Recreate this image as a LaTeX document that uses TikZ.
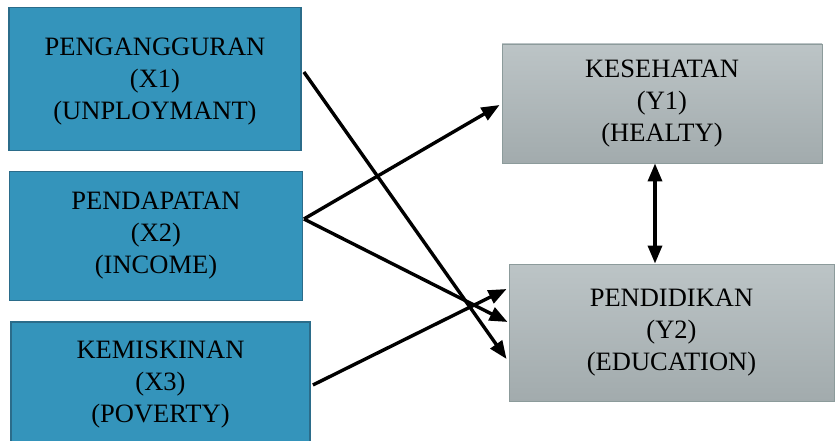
\documentclass[tikz,border=0pt]{standalone}
\usepackage{fontspec}
\setmainfont{Liberation Serif}
\usepackage{tikz}
\usetikzlibrary{arrows.meta}

\definecolor{xblue}{HTML}{3494BB}
\definecolor{xblueline}{HTML}{2B6C8A}
\definecolor{ytop}{HTML}{BCC4C6}
\definecolor{ybot}{HTML}{A2ABAD}
\definecolor{yline}{HTML}{8C9B9B}

\begin{document}
\begin{tikzpicture}[x=1pt, y=1pt, every node/.style={font=\fontsize{26.5}{32}\selectfont}, xbox/.style={draw=xblueline, line width=1.8pt, fill=xblue, align=center, inner sep=0pt}, ybox/.style={draw=yline, line width=0.9pt, top color=ytop, bottom color=ybot, align=center, inner sep=0pt}, link/.style={line width=3.4pt, -{Triangle[length=18pt,width=14pt]}}]
\useasboundingbox (0,0) rectangle (836,440);
\node[xbox, minimum width=292pt, minimum height=143pt, text depth=-4pt] (unemp) at (155,361) {PENGANGGURAN\\(X1)\\(UNPLOYMANT)};
\node[xbox, minimum width=293pt, minimum height=129pt] (income) at (156,204) {PENDAPATAN\\(X2)\\(INCOME)};
\node[xbox, minimum width=299pt, minimum height=126pt] (poverty) at (160.5,55) {KEMISKINAN\\(X3)\\(POVERTY)};
\node[ybox, minimum width=320pt, minimum height=119pt] (health) at (662,336.5) {KESEHATAN\\(Y1)\\(HEALTY)};
\node[ybox, minimum width=325pt, minimum height=137pt] (edu) at (671.5,107.5) {PENDIDIKAN\\(Y2)\\(EDUCATION)};
\draw[link] ([xshift=2pt,yshift=7pt]unemp.east) -- ([xshift=-2pt,yshift=-26.5pt]edu.west); \draw[link] ([xshift=0.5pt,yshift=17pt]income.east) -- ([xshift=-2pt,yshift=-1.5pt]health.west); \draw[link] ([xshift=0.5pt,yshift=17pt]income.east) -- ([xshift=-1pt,yshift=10.5pt]edu.west); \draw[link] ([xshift=2pt]poverty.east) -- ([xshift=-2pt,yshift=43.5pt]edu.west); \draw[link, {Triangle[length=18pt,width=14pt]}-{Triangle[length=18pt,width=14pt]}] ([xshift=-7pt]health.south) -- ([xshift=-7pt]edu.north-|health.south);
\end{tikzpicture}
\end{document}
